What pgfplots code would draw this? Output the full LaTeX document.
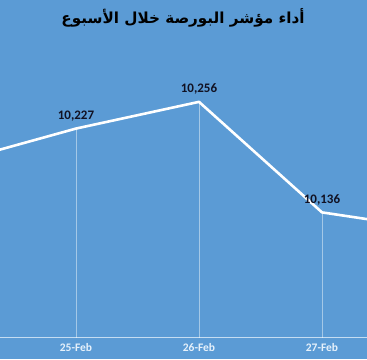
\documentclass[border=0pt]{standalone}
\usepackage{pgfplots}
\pgfplotsset{compat=1.18}
\usepackage{fontspec}
\setmainfont{Carlito}
\newfontfamily\arabicfont[Script=Arabic]{DejaVu Sans}
\TeXXeTstate=1
\definecolor{bg}{HTML}{5B9BD5}
\definecolor{axl}{HTML}{C5DDF2}
\definecolor{tickc}{HTML}{E6F1FB}
\definecolor{lab}{HTML}{111122}
\begin{document}
\begin{tikzpicture}[x=1pt,y=1pt]
\path[use as bounding box] (0,0) rectangle (367,359);
\clip (0,0) rectangle (367,359);
\fill[bg] (0,0) rectangle (367,359);
\node[font=\arabicfont\bfseries\fontsize{15.2}{18}\selectfont, text=black] at (183,341) {\beginR أداء مؤشر البورصة خلال الأسبوع\endR};
\begin{axis}[
  at={(0,23.2)}, anchor=south west, scale only axis,
  width=367pt, height=276.3pt,
  xmin=0.382, xmax=3.366, ymin=10000, ymax=10300,
  axis x line*=bottom, axis y line=none,
  x axis line style={axl, line width=1.3pt},
  xtick={0,1,2,3,4},
  xticklabels={24-Feb,25-Feb,26-Feb,27-Feb,28-Feb},
  major tick length=0,
  xticklabel style={font=\bfseries\fontsize{11.5}{13}\selectfont, text=tickc, yshift=-2pt},
  /pgf/number format/assume math mode=true,
]
\addplot[ycomb, white, opacity=0.45, line width=0.5pt, forget plot] coordinates {
  (0,10190) (1,10227) (2,10256) (3,10136) (4,10116)};
\addplot[white, line width=2.6pt, line join=round] coordinates {
  (0,10190) (1,10227) (2,10256) (3,10136) (4,10116)};
\addplot[draw=none, 
  nodes near coords,
  point meta=y,
  every node near coord/.append style={font=\bfseries\fontsize{13}{15}\selectfont, text=lab, yshift=4pt, /pgf/number format/.cd, fixed, precision=0, 1000 sep={,}, assume math mode=true},
  nodes near coords align={above},
] coordinates {
  (1,10227) (2,10256) (3,10136)};
\end{axis}
\end{tikzpicture}
\end{document}
